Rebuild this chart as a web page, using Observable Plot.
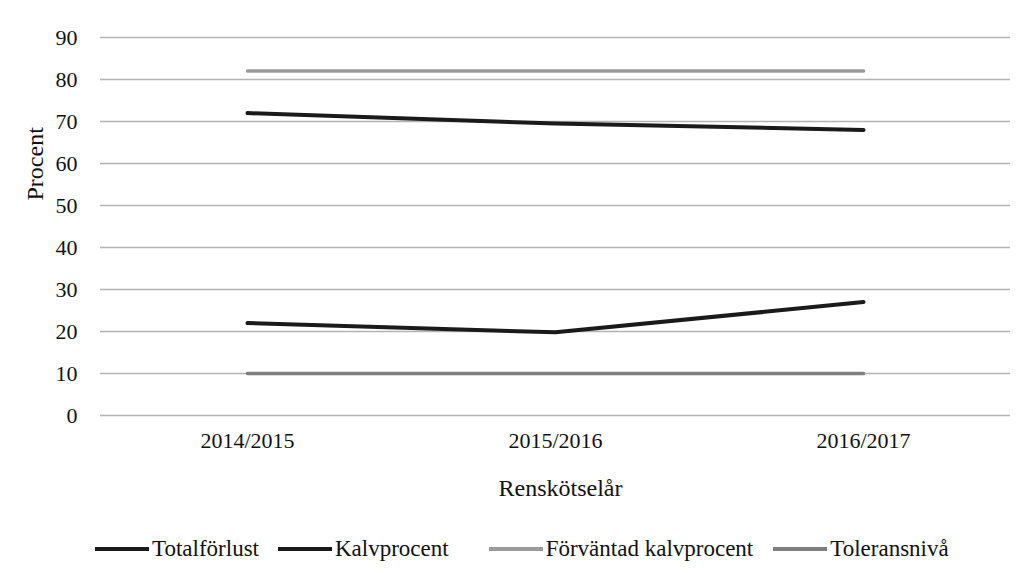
<!DOCTYPE html>
<html>
<head>
<meta charset="utf-8">
<script src="https://cdn.jsdelivr.net/npm/d3@7"></script>
<script src="https://cdn.jsdelivr.net/npm/@observablehq/plot@0.6"></script>
<style>
  body { margin: 0; background: #fff; font-family: "Liberation Serif", "DejaVu Serif", serif; }
  #legend { display: flex; align-items: center; margin-left: 95px; height: 30px; margin-top: 24px; font-size: 23px; color: #111; }
  .item { display: flex; align-items: center; }
  .sw { width: 54px; height: 4px; margin-right: 3px; }
</style>
</head>
<body>
<div id="chart"></div>
<div id="legend"></div>
<script>
const years = ["2014/2015", "2015/2016", "2016/2017"];
const seriesNames = ["Totalförlust", "Kalvprocent", "Förväntad kalvprocent", "Toleransnivå"];
const totalforlust = [22, 19.8, 27];
const kalvprocent = [72, 69.5, 68];
const forvantadKalvprocent = [82, 82, 82];
const toleransniva = [10, 10, 10];
const yTicks = [0, 10, 20, 30, 40, 50, 60, 70, 80, 90];
const colors = ["#1a1a1a", "#1a1a1a", "#9a9a9a", "#7f7f7f"];
const widths = [4, 4, 3.5, 3.5];
const legendGaps = [19, 40, 20, 0];

const allValues = [totalforlust, kalvprocent, forvantadKalvprocent, toleransniva];
const data = [];
seriesNames.forEach((s, i) => years.forEach((y, j) => data.push({series: s, year: y, value: allValues[i][j]})));

const font = "Liberation Serif";
const chart = Plot.plot({
  width: 1028,
  height: 510,
  marginLeft: 92,
  marginRight: 10,
  marginTop: 37,
  marginBottom: 95,
  style: {fontFamily: font, fontSize: "22px", color: "#111", background: "#fff"},
  x: {type: "point", domain: years, padding: 0.5},
  y: {domain: [0, 90]},
  marks: [
    Plot.ruleY(yTicks, {stroke: "#b3b3b3", strokeWidth: 1.3, insetLeft: 8, insetRight: 8}),
    Plot.axisY({ticks: yTicks, tickSize: 0, tickPadding: 15, label: null, fontSize: 22, fontFamily: font}),
    Plot.axisX({tickSize: 0, tickPadding: 17, label: null, fontSize: 22, fontFamily: font}),
    ...seriesNames.map((s, i) => Plot.line(data.filter(d => d.series === s), {
      x: "year", y: "value", stroke: colors[i], strokeWidth: widths[i], strokeLinecap: "round"
    })),
    Plot.text(["Renskötselår"], {frameAnchor: "bottom", dy: 80, dx: 5, fontSize: 24, fill: "#111", fontFamily: font}),
    Plot.text(["Procent"], {frameAnchor: "left", dx: -57, dy: -26, rotate: -90, fontSize: 24, fill: "#111", fontFamily: font})
  ]
});
document.getElementById("chart").appendChild(chart);

const legend = document.getElementById("legend");
seriesNames.forEach((s, i) => {
  const item = document.createElement("div");
  item.className = "item";
  item.style.marginRight = legendGaps[i] + "px";
  const sw = document.createElement("span");
  sw.className = "sw";
  sw.style.background = colors[i];
  const t = document.createElement("span");
  t.textContent = s;
  item.appendChild(sw);
  item.appendChild(t);
  legend.appendChild(item);
});
</script>
</body>
</html>
